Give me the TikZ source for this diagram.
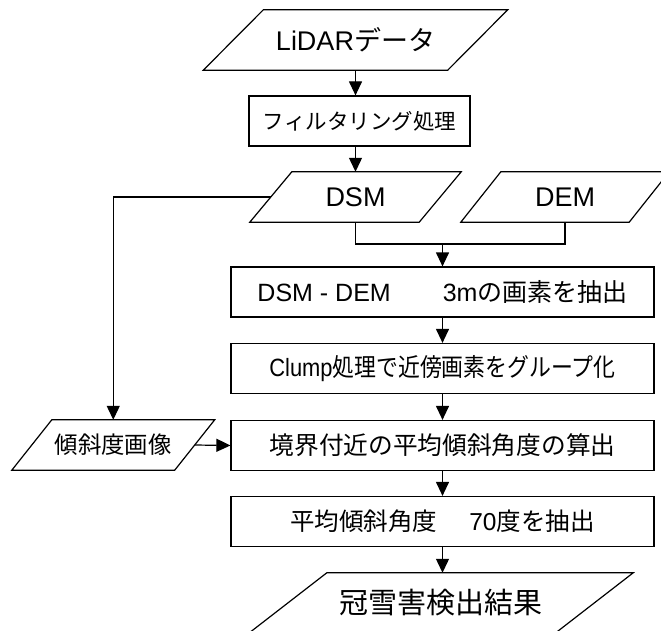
\documentclass[tikz,border=0pt]{standalone}
\usepackage{fontspec}
\usepackage{graphicx}
\setmainfont{Liberation Sans}
\newfontfamily\jp{Noto Sans CJK JP}
\usetikzlibrary{arrows.meta}
\newcommand\fsz[1]{\fontsize{#1pt}{#1pt}\selectfont}
\begin{document}
\begin{tikzpicture}[x=1pt,y=-1pt,
  line/.style={line width=1.2pt},
  arrow/.style={line, -{Triangle[width=13pt,length=14pt]}},
  proc/.style={draw, line width=1.2pt, minimum width=423pt, minimum height=50pt, inner sep=0pt},
  io/.style={inner sep=0pt}]
\fill[white] (0,0) rectangle (661,631);
\useasboundingbox (0,0) rectangle (661,631);

\node[io, minimum width=244pt, minimum height=60pt, font=\fsz{27}] (lidar) at (355.5,40) {LiDAR{\jp データ}};
\node[proc, minimum width=221pt, font=\fsz{21.5}\jp] (filt) at (359.5,121) {フィルタリング処理};
\node[io, minimum width=169pt, minimum height=50pt, font=\fsz{27}] (dsm) at (355.5,197) {DSM};
\node[io, minimum width=168pt, minimum height=50pt, font=\fsz{27}] (dem) at (565,197) {DEM};
\node[proc, font=\fsz{25}] (r1) at (442.5,292) {DSM - DEM\hspace{52pt}3m{\jp の画素を抽出}};
\node[proc, font=\fsz{25}] (r2) at (442.5,368.5) {\scalebox{0.875}[1]{Clump{\jp 処理で近傍画素をグループ化}}};
\node[proc, font=\fsz{24.7}\jp] (r3) at (442.5,445.5) {境界付近の平均傾斜角度の算出};
\node[proc, font=\fsz{24.5}] (r4) at (442.5,521.5) {{\jp 平均傾斜角度}\hspace{32pt}70{\jp 度を抽出}};
\node[io, minimum width=162.5pt, minimum height=50pt, font=\fsz{23.4}\jp] (slope) at (113.25,445) {傾斜度画像};
\node[io, minimum width=306pt, minimum height=60pt, font=\fsz{29}\jp] (out) at (441,603) {冠雪害検出結果};

\foreach \n/\s in {lidar/60, dsm/42, dem/40, slope/40, out/78}
  \draw[line] ([xshift=-\s*0.5pt]\n.south west) -- ([xshift=-\s*0.5pt]\n.south east)
     -- ([xshift=\s*0.5pt]\n.north east) -- ([xshift=\s*0.5pt]\n.north west) -- cycle;

\coordinate (j) at (442.5,244);
\draw[arrow] (lidar.south) -- (lidar.south |- filt.north);
\draw[arrow] (dsm.north |- filt.south) -- (dsm.north);
\draw[line] (dsm.south) |- (j) -| (dem.south);
\draw[arrow] (j) -- (r1.north);
\draw[arrow] (r1.south) -- (r2.north);
\draw[arrow] (r2.south) -- (r3.north);
\draw[arrow] (r3.south) -- (r4.north);
\draw[arrow] (r4.south) -- (r4.south |- out.north);
\draw[arrow] (dsm.west) -| (slope.north);
\draw[arrow] (slope.east) -- (r3.west);
\end{tikzpicture}
\end{document}
